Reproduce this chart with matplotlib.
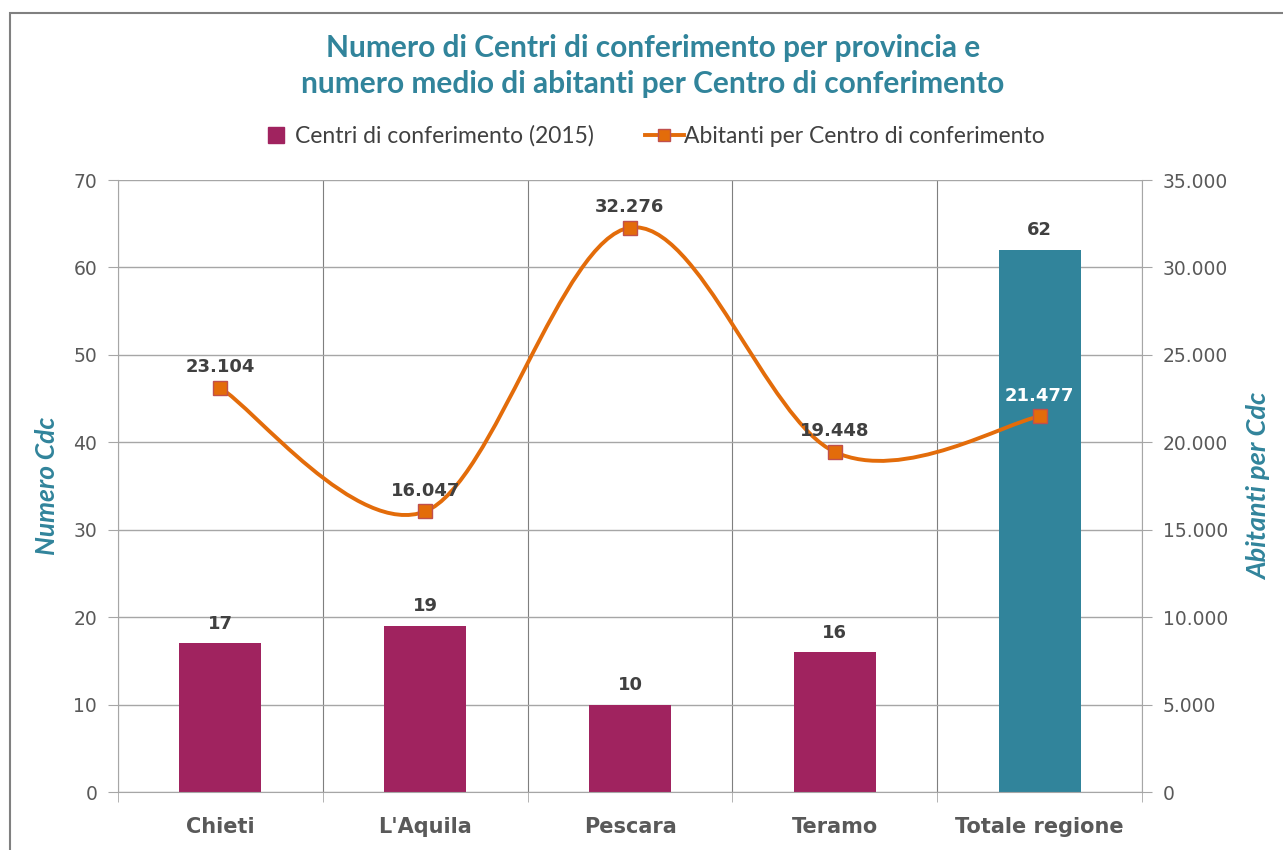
import numpy as np
import matplotlib
matplotlib.use('Agg')
import matplotlib.pyplot as plt
from matplotlib.path import Path
from matplotlib.patches import PathPatch, Rectangle
from matplotlib.lines import Line2D
from matplotlib.ticker import FuncFormatter

# dati
province = ['Chieti', "L'Aquila", 'Pescara', 'Teramo', 'Totale regione']
centri = [17, 19, 10, 16, 62]
abitanti = [23104, 16047, 32276, 19448, 21477]

# colori
viola = '#A0235F'
teal = '#31849B'
arancio = '#E36C0A'
grigio = '#595959'
griglia = '#A6A6A6'
umanista = ['Lato', 'DejaVu Sans']

fig = plt.figure(figsize=(12.83, 8.5), dpi=100)
ax = fig.add_axes([118 / 1283, 58 / 850, 1024 / 1283, 612 / 850])
x = np.arange(len(province))

# barre
colori = [viola] * 4 + [teal]
ax.bar(x, centri, width=0.4, color=colori, zorder=2)
for xi, v in zip(x, centri):
    ax.annotate(str(v), (xi, v), xytext=(0, 14), textcoords='offset points',
                ha='center', va='center', fontsize=13, fontweight='bold', color='#404040')

ax.set_xlim(-0.5, 4.5)
ax.set_ylim(0, 70)
ax.set_yticks(range(0, 71, 10))
ax.set_xticks(x)
ax.set_xticklabels(province, fontsize=15, fontweight='bold', color=grigio)
ax.set_xticks(np.arange(-0.5, 5, 1), minor=True)
ax.tick_params(axis='x', which='major', length=0, pad=18)
ax.tick_params(axis='x', which='minor', length=7, color=griglia)
ax.tick_params(axis='y', length=7, color=griglia, labelsize=13.5, labelcolor=grigio, pad=8)
ax.grid(axis='y', color=griglia, lw=1, zorder=0)
ax.grid(axis='x', which='minor', color='#7F7F7F', lw=0.8, zorder=0)
ax.set_axisbelow(True)
for s in ['top', 'right']:
    ax.spines[s].set_visible(False)
for s in ['left', 'bottom']:
    ax.spines[s].set_color(griglia)
ax.set_ylabel('Numero Cdc', family=umanista, fontsize=19, fontweight='bold',
              style='italic', color=teal, labelpad=10)

# asse secondario
ax2 = ax.twinx()
ax2.set_ylim(0, 35000)
ax2.set_yticks(range(0, 35001, 5000))
ax2.yaxis.set_major_formatter(FuncFormatter(lambda v, p: f'{int(v):,}'.replace(',', '.')))
ax2.tick_params(axis='y', length=7, color=griglia, labelsize=13.5, labelcolor=grigio, pad=8)
for s in ['top', 'left', 'bottom']:
    ax2.spines[s].set_visible(False)
ax2.spines['right'].set_color(griglia)
ax2.set_ylabel('Abitanti per Cdc', family=umanista, fontsize=19.5, fontweight='bold',
               style='italic', color=teal, labelpad=14)

# linea smussata (bezier stile Excel)
pts = np.column_stack([x, abitanti]).astype(float)
verts = [pts[0]]
codes = [Path.MOVETO]
n = len(pts)
for i in range(n - 1):
    p0 = pts[max(i - 1, 0)]
    p1 = pts[i]
    p2 = pts[i + 1]
    p3 = pts[min(i + 2, n - 1)]
    verts += [p1 + (p2 - p0) / 6, p2 - (p3 - p1) / 6, p2]
    codes += [Path.CURVE4] * 3
ax2.add_patch(PathPatch(Path(verts, codes), fill=False, edgecolor=arancio, lw=2.8, zorder=3))
ax2.plot(x, abitanti, ls='none', marker='s', ms=10, mfc=arancio, mec='#C0504D', mew=1, zorder=4)
for xi, v in zip(x, abitanti):
    c = 'white' if xi == 4 else '#404040'
    ax2.annotate(f'{v:,}'.replace(',', '.'), (xi, v), xytext=(0, 15), textcoords='offset points',
                 ha='center', va='center', fontsize=13, fontweight='bold', color=c)

# titolo
fig.text(0.509, 1 - 66 / 850,
         'Numero di Centri di conferimento per provincia e\nnumero medio di abitanti per Centro di conferimento',
         ha='center', va='center', family=umanista, fontsize=21.5, fontweight='bold',
         color=teal, linespacing=1.35)

# legenda
handles = [Line2D([], [], ls='none', marker='s', ms=12, mfc=viola, mec=viola),
           Line2D([], [], color=arancio, lw=2.8, marker='s', ms=9, mfc=arancio, mec='#C0504D')]
fig.legend(handles, ['Centri di conferimento (2015)', 'Abitanti per Centro di conferimento'],
           loc='center', bbox_to_anchor=(0.507, 1 - 136 / 850), ncol=2, frameon=False,
           prop={'family': umanista, 'size': 16.5}, labelcolor='#404040',
           handlelength=1.7, handletextpad=0.0, columnspacing=2.2)

# cornice
fig.add_artist(Rectangle((10 / 1283, -0.1), 1.2, 0.1 + (850 - 13) / 850, transform=fig.transFigure,
                         fill=False, edgecolor='#808080', lw=1.5))

fig.savefig('out.png', dpi=100)
